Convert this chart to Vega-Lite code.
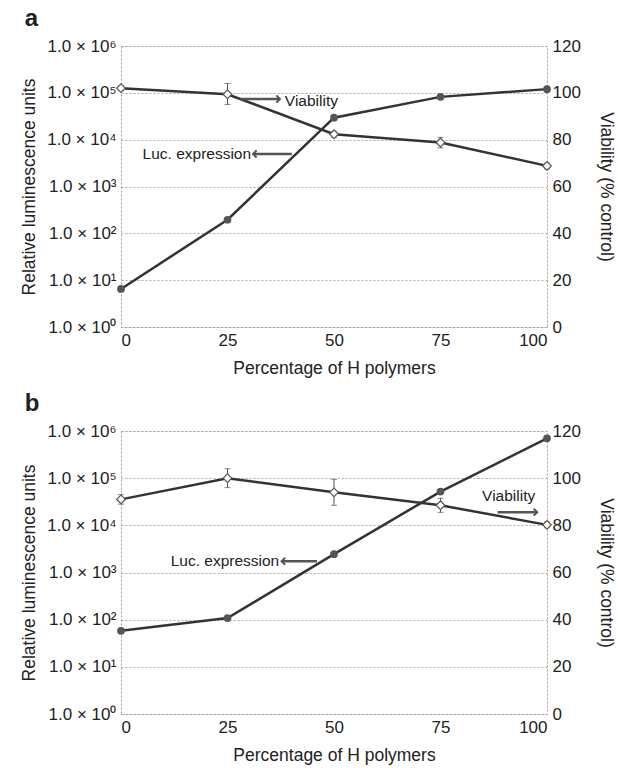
{
  "$schema": "https://vega.github.io/schema/vega-lite/v6.json",
  "padding": {"left": 20, "top": 6, "right": 2, "bottom": 2},
  "spacing": 14,
  "config": {
    "font": "Liberation Sans",
    "view": {"stroke": "#9a9a9a", "strokeDash": [2, 2], "strokeWidth": 1},
    "axis": {
      "labelFont": "Liberation Sans", "labelFontSize": 17, "labelColor": "#222",
      "titleFont": "Liberation Sans", "titleFontSize": 17.5, "titleFontWeight": "normal", "titleColor": "#222",
      "domain": false, "ticks": false, "labelPadding": 5
    },
    "title": {"font": "Liberation Sans", "fontSize": 24, "fontWeight": "bold", "color": "#222", "anchor": "start"}
  },
  "datasets": {
    "a": [
      {"x": 0, "luc": 6.5, "viab": 102, "lo": 101, "hi": 103},
      {"x": 25, "luc": 195, "viab": 99.4, "lo": 95, "hi": 104},
      {"x": 50, "luc": 29500, "viab": 82.3, "lo": 81, "hi": 83.5},
      {"x": 75, "luc": 82000, "viab": 78.8, "lo": 76.5, "hi": 81},
      {"x": 100, "luc": 120000, "viab": 68.8, "lo": 67.5, "hi": 70}
    ],
    "b": [
      {"x": 0, "luc": 58, "viab": 91, "lo": 89, "hi": 93},
      {"x": 25, "luc": 108, "viab": 100, "lo": 96, "hi": 104},
      {"x": 50, "luc": 2450, "viab": 94, "lo": 88.5, "hi": 99.5},
      {"x": 75, "luc": 52000, "viab": 88.5, "lo": 85.5, "hi": 91.5},
      {"x": 100, "luc": 700000, "viab": 80.2, "lo": 79, "hi": 81.5}
    ],
    "labelsA": [
      {"x": 44.7, "y": 96.6, "label": "Viability"},
      {"x": 17.8, "y": 73.9, "label": "Luc. expression"}
    ],
    "arrowsA": [
      {"from": 28, "to": 37.3, "y": 97.4},
      {"from": 40.1, "to": 31, "y": 73.9}
    ],
    "labelsB": [
      {"x": 91, "y": 92.4, "label": "Viability"},
      {"x": 24.4, "y": 64.8, "label": "Luc. expression"}
    ],
    "arrowsB": [
      {"from": 88.4, "to": 97.7, "y": 85.6},
      {"from": 46, "to": 37.7, "y": 64.8}
    ]
  },
  "vconcat": [
    {
      "title": {"text": "a", "dx": 4, "offset": 6},
      "width": 426,
      "height": 281,
      "layer": [
        {
          "data": {"name": "a"},
          "encoding": {
            "x": {"field": "x", "type": "quantitative", "scale": {"domain": [0, 100]},
                  "axis": {"values": [0, 25, 50, 75, 100], "title": "Percentage of H polymers", "grid": false, "titlePadding": 11}},
            "y": {"field": "luc", "type": "quantitative", "scale": {"type": "log", "domain": [1, 1000000]},
                  "axis": {"orient": "left", "values": [1, 10, 100, 1000, 10000, 100000, 1000000],
                           "labelExpr": "'1.0 × 10' + ['⁰','¹','²','³','⁴','⁵','⁶'][round(log(datum.value)/LN10)]",
                           "title": "Relative luminescence units", "grid": true, "gridColor": "#aaa", "gridDash": [2, 2], "titlePadding": 8}}
          },
          "layer": [
            {"mark": {"type": "line", "color": "#333", "strokeWidth": 2.5}},
            {"mark": {"type": "point", "shape": "circle", "filled": true, "color": "#555", "size": 60, "opacity": 1}}
          ]
        },
        {
          "layer": [
            {
              "data": {"name": "a"},
              "mark": {"type": "errorbar", "ticks": {"size": 6}, "color": "#555"},
              "encoding": {
                "x": {"field": "x", "type": "quantitative", "title": "Percentage of H polymers"},
                "y": {"field": "lo", "type": "quantitative", "scale": {"domain": [0, 120]},
                      "axis": {"orient": "right", "values": [0, 20, 40, 60, 80, 100, 120], "title": "Viability (% control)", "grid": false, "titlePadding": 16}},
                "y2": {"field": "hi"}
              }
            },
            {
              "data": {"name": "a"},
              "mark": {"type": "line", "color": "#333", "strokeWidth": 2.5},
              "encoding": {
                "x": {"field": "x", "type": "quantitative", "title": "Percentage of H polymers"},
                "y": {"field": "viab", "type": "quantitative", "title": "Viability (% control)"}
              }
            },
            {
              "data": {"name": "a"},
              "mark": {"type": "point", "shape": "diamond", "filled": true, "fill": "white", "stroke": "#555", "strokeWidth": 1.2, "size": 75, "opacity": 1},
              "encoding": {
                "x": {"field": "x", "type": "quantitative", "title": "Percentage of H polymers"},
                "y": {"field": "viab", "type": "quantitative", "title": "Viability (% control)"}
              }
            },
            {
              "data": {"name": "labelsA"},
              "mark": {"type": "text", "fontSize": 15.5, "color": "#222", "align": "center", "baseline": "middle"},
              "encoding": {
                "x": {"field": "x", "type": "quantitative", "title": "Percentage of H polymers"},
                "y": {"field": "y", "type": "quantitative", "title": "Viability (% control)"},
                "text": {"field": "label"}
              }
            },
            {
              "data": {"name": "arrowsA"},
              "mark": {"type": "rule", "color": "#555", "strokeWidth": 2.5},
              "encoding": {
                "x": {"field": "from", "type": "quantitative", "title": "Percentage of H polymers"},
                "x2": {"field": "to"},
                "y": {"field": "y", "type": "quantitative", "title": "Viability (% control)"}
              }
            },
            {
              "data": {"name": "arrowsA"},
              "transform": [{"filter": "datum.to > datum.from"}],
              "mark": {"type": "point", "shape": "M -1 -1 L 0 0 L -1 1", "filled": false, "stroke": "#555", "strokeWidth": 2, "size": 50, "opacity": 1},
              "encoding": {
                "x": {"field": "to", "type": "quantitative", "title": "Percentage of H polymers"},
                "y": {"field": "y", "type": "quantitative", "title": "Viability (% control)"}
              }
            },
            {
              "data": {"name": "arrowsA"},
              "transform": [{"filter": "datum.to < datum.from"}],
              "mark": {"type": "point", "shape": "M 1 -1 L 0 0 L 1 1", "filled": false, "stroke": "#555", "strokeWidth": 2, "size": 50, "opacity": 1},
              "encoding": {
                "x": {"field": "to", "type": "quantitative", "title": "Percentage of H polymers"},
                "y": {"field": "y", "type": "quantitative", "title": "Viability (% control)"}
              }
            }
          ]
        }
      ],
      "resolve": {"scale": {"y": "independent"}, "axis": {"y": "independent"}}
    },
    {
      "title": {"text": "b", "dx": 4, "offset": 6},
      "width": 426,
      "height": 283,
      "layer": [
        {
          "data": {"name": "b"},
          "encoding": {
            "x": {"field": "x", "type": "quantitative", "scale": {"domain": [0, 100]},
                  "axis": {"values": [0, 25, 50, 75, 100], "title": "Percentage of H polymers", "grid": false, "titlePadding": 11}},
            "y": {"field": "luc", "type": "quantitative", "scale": {"type": "log", "domain": [1, 1000000]},
                  "axis": {"orient": "left", "values": [1, 10, 100, 1000, 10000, 100000, 1000000],
                           "labelExpr": "'1.0 × 10' + ['⁰','¹','²','³','⁴','⁵','⁶'][round(log(datum.value)/LN10)]",
                           "title": "Relative luminescence units", "grid": true, "gridColor": "#aaa", "gridDash": [2, 2], "titlePadding": 8}}
          },
          "layer": [
            {"mark": {"type": "line", "color": "#333", "strokeWidth": 2.5}},
            {"mark": {"type": "point", "shape": "circle", "filled": true, "color": "#555", "size": 60, "opacity": 1}}
          ]
        },
        {
          "layer": [
            {
              "data": {"name": "b"},
              "mark": {"type": "errorbar", "ticks": {"size": 6}, "color": "#555"},
              "encoding": {
                "x": {"field": "x", "type": "quantitative", "title": "Percentage of H polymers"},
                "y": {"field": "lo", "type": "quantitative", "scale": {"domain": [0, 120]},
                      "axis": {"orient": "right", "values": [0, 20, 40, 60, 80, 100, 120], "title": "Viability (% control)", "grid": false, "titlePadding": 16}},
                "y2": {"field": "hi"}
              }
            },
            {
              "data": {"name": "b"},
              "mark": {"type": "line", "color": "#333", "strokeWidth": 2.5},
              "encoding": {
                "x": {"field": "x", "type": "quantitative", "title": "Percentage of H polymers"},
                "y": {"field": "viab", "type": "quantitative", "title": "Viability (% control)"}
              }
            },
            {
              "data": {"name": "b"},
              "mark": {"type": "point", "shape": "diamond", "filled": true, "fill": "white", "stroke": "#555", "strokeWidth": 1.2, "size": 75, "opacity": 1},
              "encoding": {
                "x": {"field": "x", "type": "quantitative", "title": "Percentage of H polymers"},
                "y": {"field": "viab", "type": "quantitative", "title": "Viability (% control)"}
              }
            },
            {
              "data": {"name": "labelsB"},
              "mark": {"type": "text", "fontSize": 15.5, "color": "#222", "align": "center", "baseline": "middle"},
              "encoding": {
                "x": {"field": "x", "type": "quantitative", "title": "Percentage of H polymers"},
                "y": {"field": "y", "type": "quantitative", "title": "Viability (% control)"},
                "text": {"field": "label"}
              }
            },
            {
              "data": {"name": "arrowsB"},
              "mark": {"type": "rule", "color": "#555", "strokeWidth": 2.5},
              "encoding": {
                "x": {"field": "from", "type": "quantitative", "title": "Percentage of H polymers"},
                "x2": {"field": "to"},
                "y": {"field": "y", "type": "quantitative", "title": "Viability (% control)"}
              }
            },
            {
              "data": {"name": "arrowsB"},
              "transform": [{"filter": "datum.to > datum.from"}],
              "mark": {"type": "point", "shape": "M -1 -1 L 0 0 L -1 1", "filled": false, "stroke": "#555", "strokeWidth": 2, "size": 50, "opacity": 1},
              "encoding": {
                "x": {"field": "to", "type": "quantitative", "title": "Percentage of H polymers"},
                "y": {"field": "y", "type": "quantitative", "title": "Viability (% control)"}
              }
            },
            {
              "data": {"name": "arrowsB"},
              "transform": [{"filter": "datum.to < datum.from"}],
              "mark": {"type": "point", "shape": "M 1 -1 L 0 0 L 1 1", "filled": false, "stroke": "#555", "strokeWidth": 2, "size": 50, "opacity": 1},
              "encoding": {
                "x": {"field": "to", "type": "quantitative", "title": "Percentage of H polymers"},
                "y": {"field": "y", "type": "quantitative", "title": "Viability (% control)"}
              }
            }
          ]
        }
      ],
      "resolve": {"scale": {"y": "independent"}, "axis": {"y": "independent"}}
    }
  ]
}
